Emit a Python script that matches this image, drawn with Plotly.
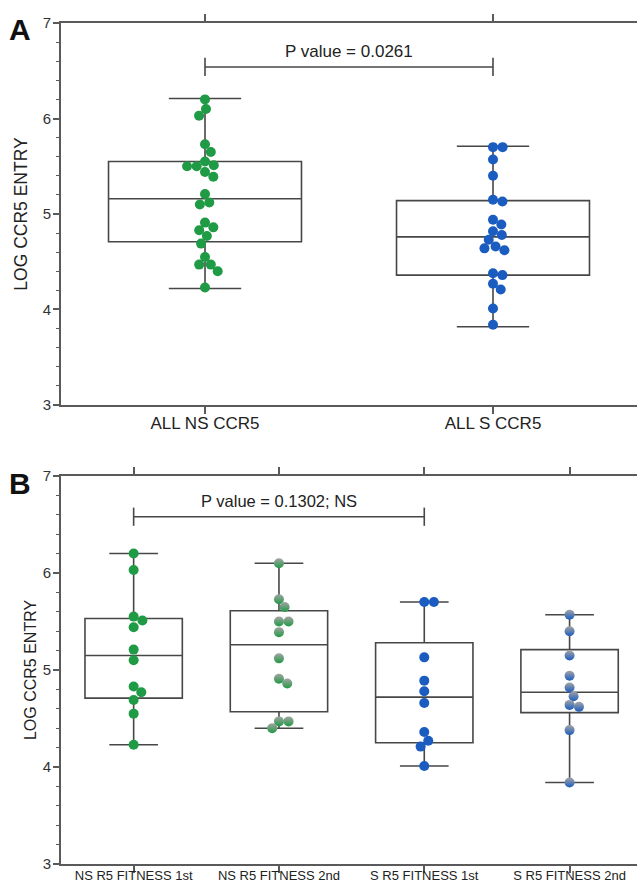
import math
import plotly.graph_objects as go

# ---------------- data ----------------
cats_a = ["ALL NS CCR5", "ALL S CCR5"]
cats_b = ["NS R5 FITNESS 1st", "NS R5 FITNESS 2nd", "S R5 FITNESS 1st", "S R5 FITNESS 2nd"]

ns_1st = [6.20, 6.03, 5.55, 5.51, 5.44, 5.21, 5.10, 4.83, 4.77, 4.69, 4.55, 4.23]
ns_2nd = [6.10, 5.73, 5.65, 5.50, 5.50, 5.39, 5.12, 4.91, 4.86, 4.47, 4.47, 4.40]
s_1st = [5.70, 5.70, 5.13, 4.89, 4.78, 4.66, 4.36, 4.27, 4.21, 4.01]
s_2nd = [5.57, 5.40, 5.15, 4.94, 4.82, 4.73, 4.64, 4.62, 4.38, 3.84]

# box statistics (q1, median, q3, lower whisker, upper whisker)
box_a_q1 = [4.71, 4.36]
box_a_med = [5.16, 4.76]
box_a_q3 = [5.55, 5.14]
box_a_lo = [4.22, 3.82]
box_a_hi = [6.21, 5.71]

box_b_q1 = [4.71, 4.57, 4.25, 4.56]
box_b_med = [5.15, 5.26, 4.72, 4.77]
box_b_q3 = [5.53, 5.61, 5.28, 5.21]
box_b_lo = [4.23, 4.40, 4.01, 3.84]
box_b_hi = [6.20, 6.10, 5.70, 5.57]

p_text_a = "P value = 0.0261"
p_text_b = "P value = 0.1302; NS"
p_level_a = 6.54
p_level_b = 6.58

# ---------------- styles / layout constants ----------------
W, H = 637, 884
ML, MR, MT, MB = 61, 0, 23, 20
DOM_A = [0.5458, 1.0]
DOM_B = [0.0, 0.4614]
XR_A = [-0.5, 1.5]
XR_B = [-0.5, 3.464]
YR = [3, 7]

GREEN = "#1f9a45"
BLUE = "#1b5cc0"
GRAY = "#a4a4a4"
LINE = "#474747"
AXIS = "#5a5a5a"
MS = 10
FONT = "Liberation Sans, Arial, sans-serif"

plot_w = W - ML - MR
plot_h = H - MT - MB


def scales(dom, xr):
    ypx = (dom[1] - dom[0]) * plot_h / (YR[1] - YR[0])
    xpx = plot_w / (xr[1] - xr[0])
    return xpx, ypx


def swarm(vals, xpx, ypx, d=9.6):
    """simple beeswarm: returns x offsets (data units)."""
    order = sorted(range(len(vals)), key=lambda i: -vals[i])
    placed = []
    offs = [0.0] * len(vals)
    for i in order:
        yp = vals[i] * ypx
        blocks = []
        for (xo, yo) in placed:
            dy = abs(yp - yo)
            if dy < d:
                w = math.sqrt(d * d - dy * dy)
                blocks.append((xo - w, xo + w))
        cands = [0.0]
        for a, b in blocks:
            cands += [a, b]
        best = 0.0
        for c in sorted(cands, key=lambda v: (abs(v), -v)):
            if all(not (a + 1e-6 < c < b - 1e-6) for a, b in blocks):
                best = c
                break
        placed.append((best, yp))
        offs[i] = best / xpx
    return offs


def px_to_paper(xpx, ypx):
    return (xpx - ML) / plot_w, (H - MB - ypx) / plot_h


fig = go.Figure()

# ---------------- panel A ----------------
xpa, ypa = scales(DOM_A, XR_A)
groups_a = [(ns_1st + ns_2nd, GREEN), (s_1st + s_2nd, BLUE)]
for k, (vals, col) in enumerate(groups_a):
    fig.add_trace(go.Box(
        x=[k], q1=[box_a_q1[k]], median=[box_a_med[k]], q3=[box_a_q3[k]],
        lowerfence=[box_a_lo[k]], upperfence=[box_a_hi[k]],
        width=0.67, whiskerwidth=0.375, fillcolor="rgba(0,0,0,0)",
        line=dict(color=LINE, width=1.6), boxpoints=False,
        hoverinfo="skip", xaxis="x", yaxis="y"))
for k, (vals, col) in enumerate(groups_a):
    offs = swarm(vals, xpa, ypa)
    fig.add_trace(go.Scatter(
        x=[k + o for o in offs], y=vals, mode="markers",
        marker=dict(color=col, size=MS, line=dict(width=0)),
        xaxis="x", yaxis="y"))

fig.add_trace(go.Scatter(
    x=[0, 1], y=[p_level_a, p_level_a], mode="lines+markers",
    line=dict(color=LINE, width=1.6),
    marker=dict(symbol="line-ns", size=13, line=dict(color=LINE, width=1.6)),
    xaxis="x", yaxis="y"))

# ---------------- panel B ----------------
xpb, ypb = scales(DOM_B, XR_B)
groups_b = [(ns_1st, GREEN, False), (ns_2nd, GREEN, True),
            (s_1st, BLUE, False), (s_2nd, BLUE, True)]
for k in range(4):
    fig.add_trace(go.Box(
        x=[k], q1=[box_b_q1[k]], median=[box_b_med[k]], q3=[box_b_q3[k]],
        lowerfence=[box_b_lo[k]], upperfence=[box_b_hi[k]],
        width=0.67, whiskerwidth=0.5, fillcolor="rgba(0,0,0,0)",
        line=dict(color=LINE, width=1.6), boxpoints=False,
        hoverinfo="skip", xaxis="x2", yaxis="y2"))
for k, (vals, col, half) in enumerate(groups_b):
    offs = swarm(vals, xpb, ypb)
    if half:
        mk = dict(color=GRAY, size=MS, line=dict(width=0),
                  gradient=dict(type="vertical", color=col))
    else:
        mk = dict(color=col, size=MS, line=dict(width=0))
    fig.add_trace(go.Scatter(
        x=[k + o for o in offs], y=vals, mode="markers", marker=mk,
        xaxis="x2", yaxis="y2"))

fig.add_trace(go.Scatter(
    x=[0, 2], y=[p_level_b, p_level_b], mode="lines+markers",
    line=dict(color=LINE, width=1.6),
    marker=dict(symbol="line-ns", size=13, line=dict(color=LINE, width=1.6)),
    xaxis="x2", yaxis="y2"))

# ---------------- axes ----------------
common_y = dict(range=YR, tickvals=[3, 4, 5, 6, 7], ticks="outside", ticklen=6,
                tickwidth=1.6, tickcolor=AXIS, showline=True, linecolor=AXIS,
                linewidth=1.8, showgrid=False, zeroline=False, automargin=False,
                ticklabelstandoff=-1,
                tickfont=dict(family=FONT, size=15, color="#333"),
                minor=dict(dtick=0.2, ticks="outside", ticklen=3, tickwidth=1.4,
                           tickcolor=AXIS, showgrid=False))
common_x = dict(ticks="outside", ticklen=7, tickwidth=1.6, tickcolor=AXIS,
                showline=True, linecolor=AXIS, linewidth=1.8, mirror="allticks",
                showgrid=False, zeroline=False, automargin=False)

fig.update_layout(
    template="none",
    width=W, height=H,
    margin=dict(l=ML, r=MR, t=MT, b=MB, autoexpand=False),
    paper_bgcolor="white", plot_bgcolor="white",
    showlegend=False,
    font=dict(family=FONT, color="#222"),
    xaxis=dict(common_x, domain=[0, 1], range=XR_A, tickvals=[0, 1],
               ticktext=cats_a, anchor="y", ticklabelstandoff=-5,
               tickfont=dict(family=FONT, size=17, color="#222")),
    yaxis=dict(common_y, domain=DOM_A, anchor="x", mirror="allticks",
               title=dict(text="LOG CCR5 ENTRY", standoff=11,
                          font=dict(family=FONT, size=17.5, color="#222"))),
    xaxis2=dict(common_x, domain=[0, 1], range=XR_B, tickvals=[0, 1, 2, 3],
                ticktext=cats_b, anchor="y2", ticklabelstandoff=-9,
                tickfont=dict(family=FONT, size=13, color="#222")),
    yaxis2=dict(common_y, domain=DOM_B, anchor="x2",
                title=dict(text="LOG CCR5 ENTRY", standoff=2,
                           font=dict(family=FONT, size=16, color="#222"))),
)

fig.add_annotation(x=0.5, y=p_level_a + 0.16, xref="x", yref="y", text=p_text_a,
                   showarrow=False, font=dict(family=FONT, size=17, color="#222"))
fig.add_annotation(x=1.0, y=p_level_b + 0.16, xref="x2", yref="y2", text=p_text_b,
                   showarrow=False, font=dict(family=FONT, size=16.5, color="#222"))

for letter, (lx, ly) in (("A", (20, 29)), ("B", (20, 483))):
    px_, py_ = px_to_paper(lx, ly)
    fig.add_annotation(x=px_, y=py_, xref="paper", yref="paper", text="<b>%s</b>" % letter,
                       showarrow=False, xanchor="center", yanchor="middle",
                       font=dict(family=FONT, size=30, color="#111"))

fig.write_html("out.html")
